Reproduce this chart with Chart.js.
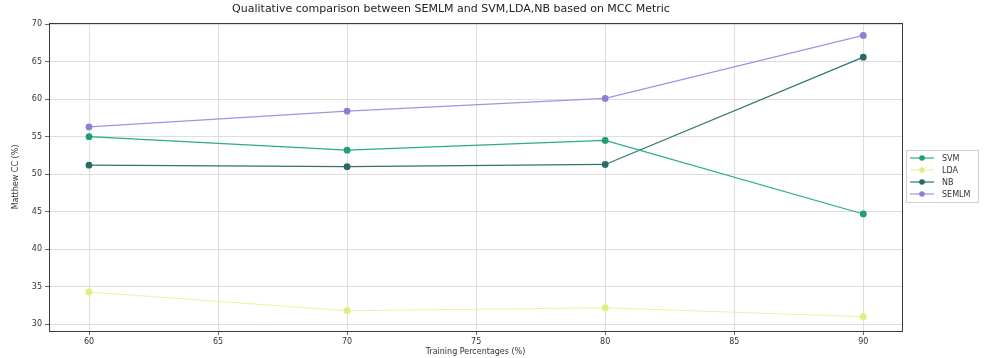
<!DOCTYPE html>
<html>
<head>
<meta charset="utf-8">
<script src="https://cdn.jsdelivr.net/npm/chart.js@4/dist/chart.umd.min.js"></script>
<style>
html,body{margin:0;padding:0;background:#fff;}
#wrap{width:986px;height:358px;position:relative;}
</style>
</head>
<body>
<div id="wrap"><canvas id="c" width="986" height="358"></canvas></div>
<script>
const categories = [60, 70, 80, 90];
const svmValues = [55.0, 53.2, 54.5, 44.7];
const ldaValues = [34.3, 31.8, 32.2, 31.0];
const nbValues = [51.2, 51.0, 51.3, 65.6];
const semlmValues = [56.3, 58.4, 60.1, 68.5];
const seriesNames = ['SVM', 'LDA', 'NB', 'SEMLM'];
const xTickValues = [60, 65, 70, 75, 80, 85, 90];
const yTickValues = [30, 35, 40, 45, 50, 55, 60, 65, 70];
const chartTitle = 'Qualitative comparison between SEMLM and SVM,LDA,NB based on MCC Metric';
const xTitle = 'Training Percentages (%)';
const yTitle = 'Matthew CC (%)';

const colors = ['#27ad86', '#eef39a', '#2f7470', '#9e94e2'];
const pointColors = ['#1f9e7a', '#e3ec80', '#2a6a66', '#8a80d6'];
const allValues = [svmValues, ldaValues, nbValues, semlmValues];

const datasets = allValues.map((vals, k) => ({
  label: seriesNames[k],
  data: categories.map((x, i) => ({x: x, y: vals[i]})),
  borderColor: colors[k],
  backgroundColor: pointColors[k],
  pointBackgroundColor: pointColors[k],
  pointBorderColor: pointColors[k],
  borderWidth: 1.2,
  pointRadius: 2.8,
  pointHoverRadius: 2.8,
  tension: 0,
  fill: false
}));

const frame = {
  id: 'frame',
  afterDatasetsDraw(chart) {
    const a = chart.chartArea, ctx = chart.ctx;
    ctx.save();
    ctx.strokeStyle = '#3a3a3a';
    ctx.lineWidth = 1;
    ctx.strokeRect(Math.round(a.left) + 0.5, Math.round(a.top) + 0.5, Math.round(a.right - a.left), Math.round(a.bottom - a.top));
    ctx.restore();
  },
  afterDraw(chart) {
    const ctx = chart.ctx;
    const x0 = 906, y0 = 150, w = 72, h = 52;
    ctx.save();
    ctx.fillStyle = 'rgba(255,255,255,0.9)';
    ctx.strokeStyle = '#d0d0d0';
    ctx.lineWidth = 1;
    ctx.fillRect(x0, y0, w, h);
    ctx.strokeRect(x0 + 0.5, y0 + 0.5, w, h);
    ctx.font = '8px "DejaVu Sans"';
    ctx.textBaseline = 'middle';
    chart.data.datasets.forEach((ds, i) => {
      const y = y0 + 8 + i * 12;
      ctx.strokeStyle = ds.borderColor;
      ctx.lineWidth = 1.2;
      ctx.beginPath();
      ctx.moveTo(910, y);
      ctx.lineTo(934, y);
      ctx.stroke();
      ctx.fillStyle = ds.pointBackgroundColor;
      ctx.beginPath();
      ctx.arc(922, y, 2.8, 0, Math.PI * 2);
      ctx.fill();
      ctx.fillStyle = '#333';
      ctx.fillText(ds.label, 942, y + 0.5);
    });
    ctx.restore();
  }
};

new Chart(document.getElementById('c'), {
  type: 'line',
  data: { datasets: datasets },
  plugins: [frame],
  options: {
    responsive: false,
    animation: false,
    devicePixelRatio: 1,
    layout: { padding: { left: 0, right: 84, top: 0, bottom: 0 } },
    plugins: {
      legend: { display: false },
      tooltip: { enabled: false },
      title: {
        display: true,
        text: chartTitle,
        color: '#222',
        font: { family: 'DejaVu Sans', size: 11, weight: 'normal' },
        padding: { top: 3, bottom: 6.8 }
      }
    },
    scales: {
      x: {
        type: 'linear',
        min: 58.45,
        max: 91.5,
        afterBuildTicks: (axis) => { axis.ticks = xTickValues.map(v => ({value: v})); },
        afterFit: (scale) => { scale.height = 27; },
        grid: { color: '#d6d6d6', lineWidth: 0.8, tickLength: 4, tickColor: '#444' },
        border: { display: true, color: '#3a3a3a', width: 1 },
        ticks: { color: '#333', font: { family: 'DejaVu Sans', size: 8 }, padding: 2, maxRotation: 0 },
        title: { display: true, text: xTitle, color: '#333', font: { family: 'DejaVu Sans', size: 8 }, padding: { top: 0, bottom: 1 } }
      },
      y: {
        type: 'linear',
        min: 29.1,
        max: 70.15,
        afterBuildTicks: (axis) => { axis.ticks = yTickValues.map(v => ({value: v})); },
        afterFit: (scale) => { scale.width = 49; },
        grid: { color: '#d6d6d6', lineWidth: 0.8, tickLength: 4, tickColor: '#444' },
        border: { display: true, color: '#3a3a3a', width: 1 },
        ticks: { color: '#333', font: { family: 'DejaVu Sans', size: 8 }, padding: 3 },
        title: { display: true, text: yTitle, color: '#333', font: { family: 'DejaVu Sans', size: 8 }, padding: { top: 11, bottom: 4 } }
      }
    }
  }
});
</script>
</body>
</html>
